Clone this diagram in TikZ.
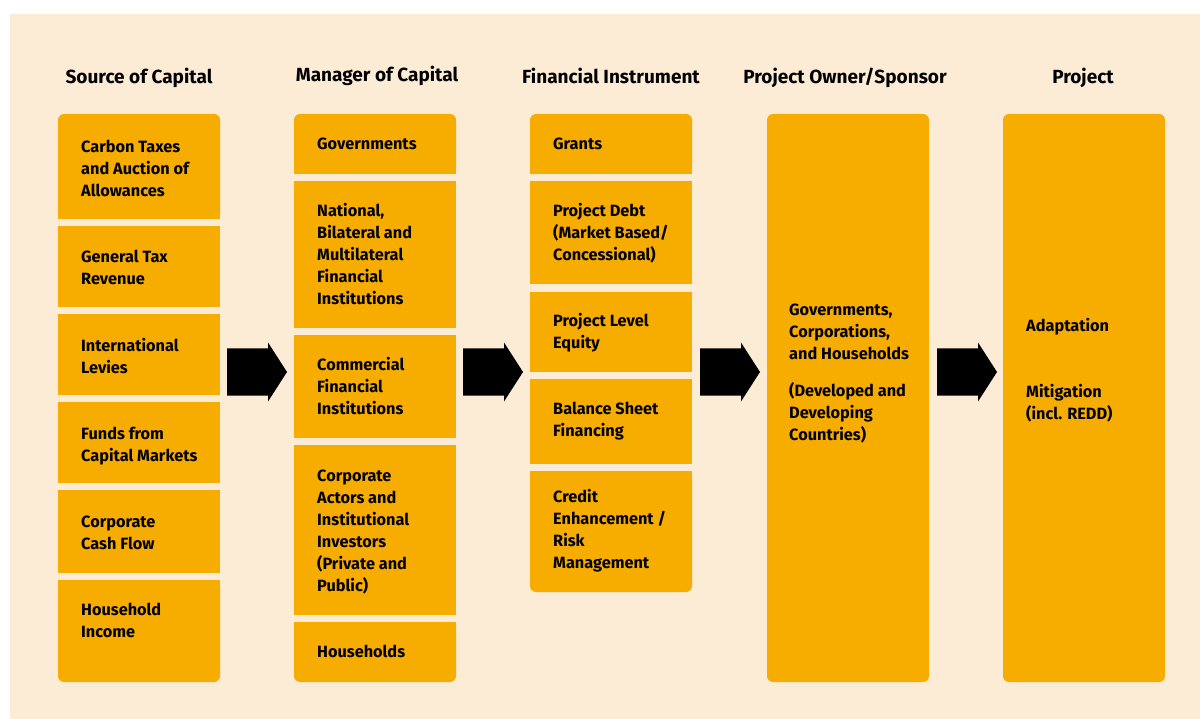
\documentclass[tikz,border=0pt]{standalone}
\usepackage{fontspec}
\setmainfont{Fira Sans}
\usetikzlibrary{calc}
\definecolor{cream}{HTML}{FDECD5}
\definecolor{gold}{HTML}{F7AC00}
\newcommand\topbox[4]{% name, x, top, height
  \node[box, rounded corners=6, minimum height=#4] (#1) at (#2,#3) {};
  \fill[gold] (#1.west) rectangle (#1.south east);}
\newcommand\midbox[4]{%
  \node[box, minimum height=#4] (#1) at (#2,#3) {};}
\newcommand\botbox[4]{%
  \node[box, rounded corners=6, minimum height=#4] (#1) at (#2,#3) {};
  \fill[gold] (#1.north west) rectangle (#1.east);}
\newcommand\boxtext[4]{% box name, node name, extra y offset, text
  \node[lbl] (#2) at ($(#1.north west)+(23,20.6+#3)$) {#4};}
\begin{document}
\begin{tikzpicture}[x=1pt,y=-1pt,
  box/.style={fill=gold, draw=none, inner sep=0, outer sep=0, minimum width=162, anchor=north west},
  lbl/.style={anchor=north west, inner sep=0, align=left, font=\bfseries\fontsize{16.3}{22}\selectfont, execute at begin node=\strut},
  hdr/.style={anchor=base, inner sep=0, font=\bfseries\fontsize{19}{24}\selectfont},
  barrow/.pic={\fill[black] (0,-23.5) -- (41,-23.5) -- (41,-29.5) -- (60,0) -- (41,29.5) -- (41,23.5) -- (0,23.5) -- cycle;}
]
\useasboundingbox (0,0) rectangle (1200,719);
\fill[white] (0,0) rectangle (1200,719);
\fill[cream] (10,14) rectangle (1200,719);

% headers
\node[hdr] (h1) at (139,84) {Source of Capital};
\node[hdr] (h2) at (377,82) {Manager of Capital};
\node[hdr] (h3) at (611,84) {Financial Instrument};
\node[hdr] (h4) at (845,84) {Project Owner/Sponsor};
\node[hdr] (h5) at (1083,84) {Project};

% column 1
\topbox{s1}{58}{114}{105}
\midbox{s2}{58}{226}{81}
\midbox{s3}{58}{314}{81}
\midbox{s4}{58}{402}{81}
\midbox{s5}{58}{490}{83}
\botbox{s6}{58}{580}{102}
\boxtext{s1}{ts1}{5}{Carbon Taxes\\and Auction of\\Allowances}
\boxtext{s2}{ts2}{3}{General Tax\\Revenue}
\boxtext{s3}{ts3}{3}{International\\Levies}
\boxtext{s4}{ts4}{4}{Funds from\\Capital Markets}
\boxtext{s5}{ts5}{5}{Corporate\\Cash Flow}
\boxtext{s6}{ts6}{2}{Household\\Income}

% column 2
\topbox{m1}{294}{114}{60}
\midbox{m2}{294}{181}{147}
\midbox{m3}{294}{335}{103}
\midbox{m4}{294}{445}{170}
\botbox{m5}{294}{622}{60}
\boxtext{m1}{tm1}{-1}{Governments}
\boxtext{m2}{tm2}{1}{National,\\Bilateral and\\Multilateral\\Financial\\Institutions}
\boxtext{m3}{tm3}{1}{Commercial\\Financial\\Institutions}
\boxtext{m4}{tm4}{4}{Corporate\\Actors and\\Institutional\\Investors\\(Private and\\Public)}
\boxtext{m5}{tm5}{-1}{Households}

% column 3
\topbox{f1}{530}{114}{60}
\midbox{f2}{530}{181}{103}
\midbox{f3}{530}{292}{80}
\midbox{f4}{530}{379}{85}
\botbox{f5}{530}{471}{121}
\boxtext{f1}{tf1}{-1}{Grants}
\boxtext{f2}{tf2}{1}{Project Debt\\(Market Based/\\Concessional)}
\boxtext{f3}{tf3}{0}{Project Level\\Equity}
\boxtext{f4}{tf4}{2}{Balance Sheet\\Financing}
\boxtext{f5}{tf5}{-3}{Credit\\Enhancement /\\Risk\\Management}

% column 4 and 5
\node[box, rounded corners=6, minimum height=568] (o1) at (767,114) {};
\node[box, rounded corners=6, minimum height=568] (p1) at (1003,114) {};
\node[lbl] (to1) at ($(o1.north west)+(22,189.6)$) {Governments,\\Corporations,\\and Households\\[15pt](Developed and\\Developing\\Countries)};
\node[lbl] (tp1) at ($(p1.north west)+(23,203.6)$) {Adaptation\\[44pt]Mitigation\\(incl. REDD)};

% block arrows
\coordinate (a1) at (227,372);
\coordinate (a2) at (463,372);
\coordinate (a3) at (700,372);
\coordinate (a4) at (937,372);
\pic at (a1) {barrow};
\pic at (a2) {barrow};
\pic at (a3) {barrow};
\pic at (a4) {barrow};
\end{tikzpicture}
\end{document}
